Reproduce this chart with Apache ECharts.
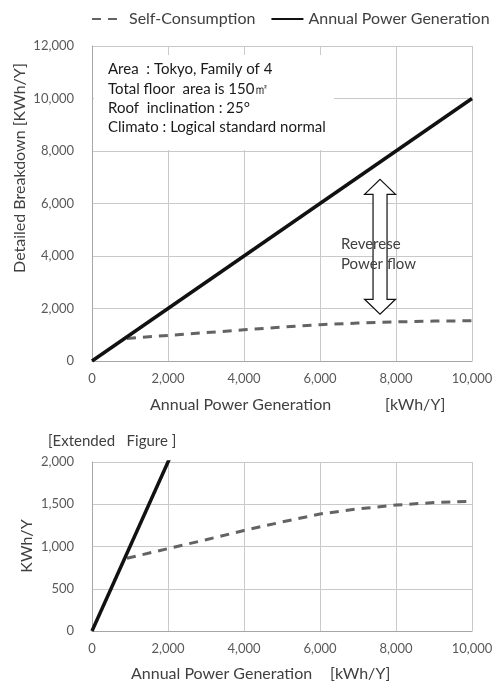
<!DOCTYPE html>
<html>
<head>
<meta charset="utf-8">
<script src="https://cdn.jsdelivr.net/npm/echarts@6/dist/echarts.min.js"></script>
<style>html,body{margin:0;padding:0;background:#fff;}#c{width:499px;height:684px;}</style>
</head>
<body>
<div id="c"></div>
<script>
// Data
const genX = [0, 10000];
const genY = [0, 10000];
const selfX = [920, 2000, 3000, 4000, 5000, 6000, 7000, 8000, 9000, 10000];
const selfY = [860, 975, 1080, 1190, 1290, 1385, 1445, 1490, 1520, 1535];
const legendNames = ['Self-Consumption', 'Annual Power Generation'];
const infoLines = ['Area  : Tokyo, Family of 4', 'Total floor  area is 150㎡', 'Roof  inclination : 25°', 'Climato : Logical standard normal'];
const arrowX = 7580, arrowTop = 6920, arrowBottom = 1780;

const FONT = 'Lato';
const TXT = '#404040';
const LBL = '#595959';
const GRID = '#c9c9c9';

function pairs(xs, ys) { return xs.map((x, i) => [x, ys[i]]); }

const chart = echarts.init(document.getElementById('c'), null, {renderer: 'canvas'});

function xAxis(gi) {
  return {
    type: 'value', gridIndex: gi, min: 0, max: 10000, interval: 2000,
    axisLine: {show: true, lineStyle: {color: '#a6a6a6', width: 1}},
    axisTick: {show: false},
    splitLine: {show: true, lineStyle: {color: GRID, width: 1}},
    axisLabel: {color: LBL, fontFamily: FONT, fontSize: 13, margin: 11,
      formatter: v => v.toLocaleString('en-US')}
  };
}
function yAxis(gi, max, interval) {
  return {
    type: 'value', gridIndex: gi, min: 0, max: max, interval: interval,
    axisLine: {show: true, lineStyle: {color: '#a6a6a6', width: 1}},
    axisTick: {show: false},
    splitLine: {show: true, lineStyle: {color: GRID, width: 1}},
    axisLabel: {color: LBL, fontFamily: FONT, fontSize: 13, margin: 18,
      formatter: v => v.toLocaleString('en-US')}
  };
}
const dashStyle = {color: '#636363', width: 3, type: [9, 7]};
const solidStyle = {color: '#111111', width: 3.5};

const option = {
  animation: false,
  backgroundColor: '#fff',
  legend: {
    left: 91, top: 11, width: 440, itemWidth: 32, itemHeight: 14, itemGap: 15, padding: 0,
    data: legendNames,
    itemStyle: {opacity: 0, borderWidth: 0},
    textStyle: {color: TXT, fontFamily: FONT, fontSize: 16}
  },
  grid: [
    {left: 92, top: 46, width: 380, height: 315},
    {left: 92, top: 462, width: 380, height: 169}
  ],
  xAxis: [xAxis(0), xAxis(1)],
  yAxis: [yAxis(0, 12000, 2000), yAxis(1, 2000, 500)],
  series: [
    {name: legendNames[0], type: 'line', xAxisIndex: 0, yAxisIndex: 0, data: pairs(selfX, selfY),
      symbol: 'none', lineStyle: dashStyle, itemStyle: {color: '#636363'}, z: 3},
    {name: legendNames[1], type: 'line', xAxisIndex: 0, yAxisIndex: 0, data: pairs(genX, genY),
      symbol: 'none', lineStyle: solidStyle, itemStyle: {color: '#111'}, z: 4},
    {name: legendNames[0], type: 'line', xAxisIndex: 1, yAxisIndex: 1, data: pairs(selfX, selfY),
      symbol: 'none', lineStyle: dashStyle, itemStyle: {color: '#636363'}, z: 3},
    {name: legendNames[1], type: 'line', xAxisIndex: 1, yAxisIndex: 1, data: pairs(genX, genY),
      symbol: 'none', lineStyle: solidStyle, itemStyle: {color: '#111'}, z: 4, clip: true}
  ]
};
chart.setOption(option);

// annotations
const pTop = chart.convertToPixel({xAxisIndex: 0, yAxisIndex: 0}, [arrowX, arrowTop]);
const pBot = chart.convertToPixel({xAxisIndex: 0, yAxisIndex: 0}, [arrowX, arrowBottom]);
const cx = pTop[0], yt = pTop[1], yb = pBot[1];
const hw = 15.5, sw = 7, hh = 15;
const arrowPts = [
  [cx, yt], [cx + hw, yt + hh], [cx + sw, yt + hh], [cx + sw, yb - hh], [cx + hw, yb - hh],
  [cx, yb], [cx - hw, yb - hh], [cx - sw, yb - hh], [cx - sw, yt + hh], [cx - hw, yt + hh]
];

const graphics = [
  {type: 'rect', shape: {x: 94, y: 55, width: 240, height: 95}, style: {fill: '#fff'}, z: 1},
  {type: 'polygon', shape: {points: arrowPts}, style: {fill: '#fff', stroke: '#111', lineWidth: 1.2}, z: 5},
  {type: 'text', left: 341, top: 234, style: {text: 'Reverese\nPower flow', fill: TXT, font: '15px ' + FONT, lineHeight: 20}, z: 6},
  {type: 'text', left: 150, top: 397, style: {text: 'Annual Power Generation', fill: TXT, font: '16px ' + FONT}, z: 6},
  {type: 'text', left: 385, top: 397, style: {text: '[kWh/Y]', fill: TXT, font: '16px ' + FONT}, z: 6},
  {type: 'text', left: 131, top: 666, style: {text: 'Annual Power Generation', fill: TXT, font: '16px ' + FONT}, z: 6},
  {type: 'text', left: 330, top: 666, style: {text: '[kWh/Y]', fill: TXT, font: '16px ' + FONT}, z: 6},
  {type: 'text', left: 48, top: 434, style: {text: '[Extended   Figure ]', fill: TXT, font: '15px ' + FONT}, z: 6},
  {type: 'text', x: 20, y: 168, rotation: Math.PI / 2, style: {text: 'Detailed Breakdown [KWh/Y]', fill: TXT, font: '16px ' + FONT, align: 'center', verticalAlign: 'middle'}, z: 6},
  {type: 'text', x: 27, y: 546, rotation: Math.PI / 2, style: {text: 'KWh/Y', fill: TXT, font: '16px ' + FONT, align: 'center', verticalAlign: 'middle'}, z: 6}
];
infoLines.forEach((t, i) => {
  graphics.push({type: 'text', left: 108, top: 62 + i * 19.3, style: {text: t, fill: '#1a1a1a', font: '15px ' + FONT}, z: 6});
});
chart.setOption({graphic: graphics});
</script>
</body>
</html>
